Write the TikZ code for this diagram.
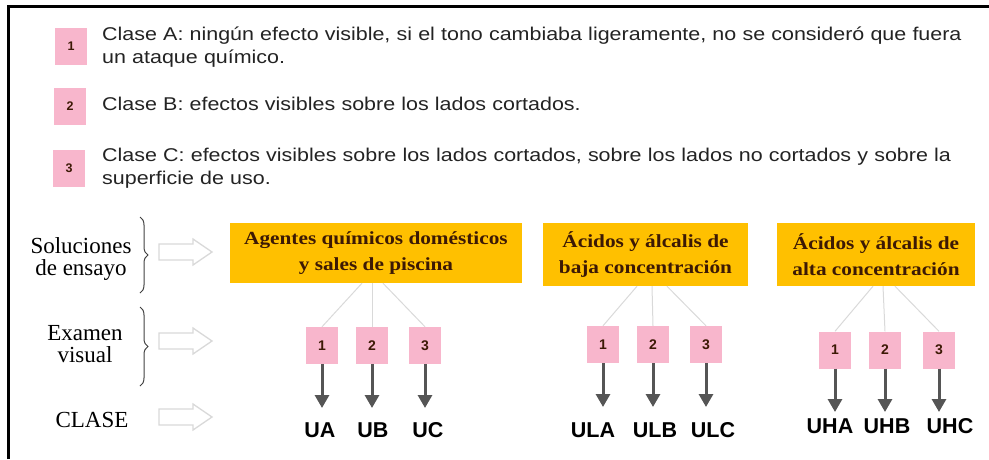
\documentclass[tikz,border=0pt]{standalone}
\usepackage{fontspec}
\setmainfont[FakeStretch=1.15]{Liberation Serif}
\newfontfamily\romana{Liberation Serif}
\newfontfamily\arial{Liberation Sans}
\newfontfamily\arialancha[FakeStretch=1.16]{Liberation Sans}
\usetikzlibrary{arrows.meta,decorations.pathreplacing}

\definecolor{rosa}{RGB}{248,182,204}
\definecolor{naranja}{RGB}{255,192,0}
\definecolor{marron}{RGB}{60,25,5}
\definecolor{flecha}{RGB}{85,85,85}
\definecolor{texto}{RGB}{35,35,35}

\begin{document}
\begin{tikzpicture}[x=1pt,y=-1pt]
        % Estilos
        \tikzset{
          cuadro/.style={fill=rosa, minimum width=32pt, minimum height=37pt, inner sep=0pt,
            font=\arial\bfseries\fontsize{14}{14}\selectfont, text=marron},
          caja/.style={fill=naranja, inner sep=0pt, align=center,
            font=\bfseries\fontsize{18.5}{26}\selectfont, text=marron},
          clase/.style={inner sep=0pt, anchor=north, font=\arial\bfseries\fontsize{21.5}{21.5}\selectfont},
          ramal/.style={draw=gray!30, line width=1pt},
          bajada/.style={draw=flecha, line width=3pt, -{Triangle[width=14pt,length=13pt]}},
          leyenda/.style={anchor=north west, inner sep=0pt, align=left, text width=880pt,
            font=\arialancha\fontsize{18.5}{22.5}\selectfont, text=texto},
          etiqueta/.style={inner sep=0pt, align=center, font=\romana\fontsize{23}{21.5}\selectfont},
          llave/.style={decorate, decoration={brace, amplitude=8pt}, draw=black!75, line width=1pt},
          hueca/.pic={\draw[gray!30, line width=1.3pt, fill=white]
            (0,-8) -- (34,-8) -- (34,-13) -- (53,0) -- (34,13) -- (34,8) -- (0,8) -- cycle;}
        }
        \useasboundingbox (0,0) rectangle (989,459);

        % Marco
        \draw[line width=3pt] (8,459) -- (8,6) -- (989,6);

        % --- LEYENDA ---
        \node[cuadro, font=\arial\bfseries\fontsize{12.5}{12.5}\selectfont] (c1) at (71,46) {1};
        \node[cuadro, font=\arial\bfseries\fontsize{12.5}{12.5}\selectfont] (c2) at (70,106) {2};
        \node[cuadro, font=\arial\bfseries\fontsize{12.5}{12.5}\selectfont] (c3) at (69,168) {3};
        \node[leyenda] (la) at (102,27) {Clase A: ningún efecto visible, si el tono cambiaba ligeramente, no se consideró que fuera\\un ataque químico.};
        \node[leyenda] (lb) at (102,97) {Clase B: efectos visibles sobre los lados cortados.};
        \node[leyenda] (lc) at (102,148) {Clase C: efectos visibles sobre los lados cortados, sobre los lados no cortados y sobre la\\superficie de uso.};

        % --- ROTULOS DE LA IZQUIERDA ---
        \node[etiqueta] (sol) at (81,259) {Soluciones\\de ensayo};
        \node[etiqueta] (exa) at (85,344) {Examen\\visual};
        \node[etiqueta] (cla) at (92,420) {CLASE};
        \draw[llave] (140,217) -- (140,293);
        \draw[llave] (140,307) -- (140,386);
        \pic at (159,252) {hueca};
        \pic at (159,341) {hueca};
        \pic at (159,417) {hueca};

        % --- CAJAS DE SOLUCIONES ---
        \node[caja, minimum width=292pt, minimum height=60pt] (agq) at (376,253) {Agentes químicos domésticos\\y sales de piscina};
        \node[caja, minimum width=205pt, minimum height=63pt] (baja) at (645.5,254.5) {Ácidos y álcalis de\\baja concentración};
        \node[caja, minimum width=198pt, minimum height=63pt] (alta) at (876,254.5) {Ácidos y álcalis de\\alta concentración};

        % Grupo 1
        \foreach \n/\num/\x/\lx/\lab/\dx in {a/1/322/320/UA/-14, b/2/372/373/UB/-4, c/3/425/428/UC/7} {
          \node[cuadro] (p1\n) at (\x,345.5) {\num};
          \node[clase] (l1\n) at (\lx,422) {\lab};
          \draw[ramal] ([xshift=\dx pt]agq.south) -- (p1\n.north);
          \draw[bajada] (p1\n.south) -- ([yshift=14pt]p1\n.south |- l1\n.north);
        }

        % Grupo 2
        \foreach \n/\num/\x/\lx/\lab/\dx in {a/1/603/593/ULA/-8.5, b/2/653/655/ULB/6.5, c/3/706/713/ULC/21.5} {
          \node[cuadro] (p2\n) at (\x,344.5) {\num};
          \node[clase] (l2\n) at (\lx,422) {\lab};
          \draw[ramal] ([xshift=\dx pt]baja.south) -- (p2\n.north);
          \draw[bajada] (p2\n.south) -- ([yshift=15pt]p2\n.south |- l2\n.north);
        }

        % Grupo 3
        \foreach \n/\num/\x/\lx/\lab/\dx in {a/1/835/830/UHA/-3, b/2/885/887/UHB/7, c/3/939/950/UHC/19} {
          \node[cuadro] (p3\n) at (\x,350) {\num};
          \node[clase] (l3\n) at (\lx,418) {\lab};
          \draw[ramal] ([xshift=\dx pt]alta.south) -- (p3\n.north);
          \draw[bajada] (p3\n.south) -- ([yshift=6pt]p3\n.south |- l3\n.north);
        }
    \end{tikzpicture}
\end{document}
